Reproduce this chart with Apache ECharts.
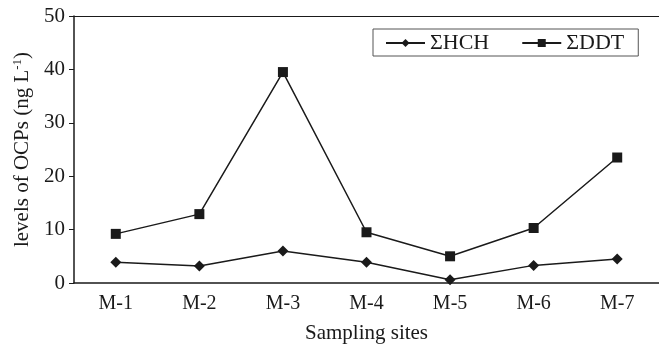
<!DOCTYPE html>
<html>
<head>
<meta charset="utf-8">
<script src="https://cdn.jsdelivr.net/npm/echarts@6/dist/echarts.min.js"></script>
<style>
  html, body { margin: 0; padding: 0; background: #fff; }
  #chart { width: 659px; height: 355px; }
</style>
</head>
<body>
<div id="chart"></div>
<script>
  const sites = ['M-1', 'M-2', 'M-3', 'M-4', 'M-5', 'M-6', 'M-7'];
  const hch = [3.9, 3.2, 6.0, 3.9, 0.6, 3.3, 4.5];
  const ddt = [9.2, 12.9, 39.5, 9.5, 5.0, 10.3, 23.5];

  const FONT = '"Liberation Serif", "Times New Roman", serif';
  const INK = '#1a1a1a';

  const chart = echarts.init(document.getElementById('chart'));

  const option = {
    backgroundColor: '#fff',
    animation: false,
    textStyle: { fontFamily: FONT, color: INK },
    grid: { left: 74, right: 0, top: 16, bottom: 72, containLabel: false },
    legend: {
      left: 373,
      top: 29,
      padding: [3, 14, 2, 12],
      itemGap: 32,
      itemWidth: 39,
      itemHeight: 10,
      borderColor: '#555',
      borderWidth: 1,
      textStyle: { fontFamily: FONT, fontSize: 22, color: INK },
      data: ['ΣHCH', 'ΣDDT']
    },
    xAxis: [{
      type: 'category',
      data: sites,
      boundaryGap: true,
      name: 'Sampling sites',
      nameLocation: 'middle',
      nameGap: 40,
      nameTextStyle: { fontFamily: FONT, fontSize: 21, color: INK },
      axisLine: { lineStyle: { color: INK, width: 1.5 } },
      axisTick: { inside: true, length: 8, lineStyle: { color: INK } },
      axisLabel: { fontFamily: FONT, fontSize: 20, color: INK, margin: 11 },
      splitLine: { show: false }
    }, {
      type: 'category',
      data: sites,
      position: 'top',
      axisLine: { lineStyle: { color: INK, width: 1.2 } },
      axisTick: { show: false },
      axisLabel: { show: false }
    }],
    yAxis: {
      type: 'value',
      min: 0,
      max: 50,
      interval: 10,
      name: 'levels of OCPs (ng L{sup|-1})',
      nameLocation: 'middle',
      nameGap: 41,
      nameTextStyle: {
        fontFamily: FONT, fontSize: 21, color: INK,
        rich: { sup: { fontFamily: FONT, fontSize: 13, color: INK, verticalAlign: 'top', padding: [0, 0, 9, 0] } }
      },
      axisLine: { show: true, lineStyle: { color: INK, width: 1.5 } },
      axisTick: { show: true, length: 5, lineStyle: { color: INK } },
      axisLabel: { fontFamily: FONT, fontSize: 21, color: INK, margin: 9 },
      splitLine: { show: false }
    },
    series: [{
      name: 'ΣHCH',
      type: 'line',
      data: hch,
      symbol: 'diamond',
      symbolSize: 11,
      lineStyle: { color: INK, width: 1.5 },
      itemStyle: { color: INK }
    }, {
      name: 'ΣDDT',
      type: 'line',
      data: ddt,
      symbol: 'rect',
      symbolSize: 10,
      lineStyle: { color: INK, width: 1.5 },
      itemStyle: { color: INK }
    }]
  };

  chart.setOption(option);
  window.addEventListener('resize', () => chart.resize());
</script>
</body>
</html>
